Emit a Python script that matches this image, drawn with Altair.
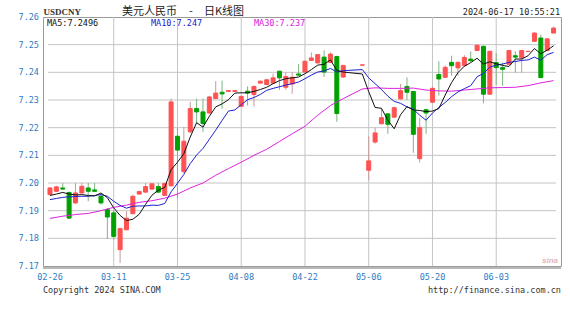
import altair as alt
import pandas as pd

# ---------------- data ----------------
idx = list(range(0, 47)) + list(range(49, 80))
opens = [7.1958, 7.1970, 7.1982, 7.1966, 7.1928, 7.1964, 7.1982, 7.1975, 7.1952, 7.1904,
         7.1892, 7.1759, 7.1831, 7.1889, 7.1960, 7.1967, 7.1978, 7.1987, 7.1955, 7.1990,
         7.2169, 7.2041, 7.2185, 7.2269, 7.2257, 7.2253, 7.2305, 7.2328, 7.2331, 7.2331,
         7.2277, 7.2332, 7.2320, 7.2361, 7.2356, 7.2361, 7.2404, 7.2346, 7.2358, 7.2394,
         7.2401, 7.2443, 7.2434, 7.2455, 7.2436, 7.2457, 7.2383,
         7.2426, 7.2046, 7.2148, 7.2214, 7.2250, 7.2238, 7.2304, 7.2349, 7.2331, 7.2088,
         7.2265, 7.2292, 7.2392, 7.2382, 7.2436, 7.2416, 7.2424, 7.2448, 7.2479, 7.2494,
         7.2321, 7.2435, 7.2417, 7.2429, 7.2460, 7.2452, 7.2475, 7.2512, 7.2524, 7.2479, 7.2542]
highs = [7.1985, 7.1990, 7.2000, 7.1968, 7.2000, 7.2000, 7.2000, 7.2000, 7.1960, 7.1910,
         7.1900, 7.1838, 7.1898, 7.1958, 7.1972, 7.2000, 7.2000, 7.2000, 7.2002, 7.2305,
         7.2200, 7.2203, 7.2293, 7.2305, 7.2305, 7.2315, 7.2368, 7.2370, 7.2335, 7.2335,
         7.2315, 7.2349, 7.2352, 7.2370, 7.2376, 7.2395, 7.2406, 7.2400, 7.2400, 7.2430,
         7.2442, 7.2472, 7.2466, 7.2480, 7.2472, 7.2460, 7.2427,
         7.2428, 7.2169, 7.2200, 7.2268, 7.2252, 7.2276, 7.2358, 7.2382, 7.2333, 7.2236,
         7.2268, 7.2349, 7.2440, 7.2425, 7.2460, 7.2440, 7.2462, 7.2476, 7.2500, 7.2496,
         7.2478, 7.2470, 7.2435, 7.2481, 7.2476, 7.2481, 7.2477, 7.2545, 7.2536, 7.2523, 7.2565]
lows = [7.1955, 7.1968, 7.1976, 7.1870, 7.1925, 7.1962, 7.1934, 7.1968, 7.1922, 7.1798,
        7.1795, 7.1711, 7.1829, 7.1887, 7.1958, 7.1965, 7.1976, 7.1965, 7.1953, 7.1988,
        7.1945, 7.2035, 7.2180, 7.2215, 7.2185, 7.2250, 7.2303, 7.2268, 7.2330, 7.2330,
        7.2275, 7.2280, 7.2277, 7.2360, 7.2354, 7.2360, 7.2337, 7.2337, 7.2323, 7.2388,
        7.2399, 7.2441, 7.2432, 7.2383, 7.2434, 7.2221, 7.2380,
        7.2426, 7.2010, 7.2142, 7.2212, 7.2178, 7.2236, 7.2302, 7.2300, 7.2109, 7.2074,
        7.2178, 7.2290, 7.2316, 7.2380, 7.2388, 7.2388, 7.2422, 7.2438, 7.2477, 7.2288,
        7.2319, 7.2355, 7.2351, 7.2427, 7.2399, 7.2399, 7.2475, 7.2510, 7.2379, 7.2477, 7.2540]
closes = [7.1982, 7.1986, 7.1978, 7.1873, 7.1964, 7.1988, 7.1970, 7.1970, 7.1928, 7.1877,
          7.1807, 7.1835, 7.1873, 7.1952, 7.1969, 7.1987, 7.1997, 7.1967, 7.1998, 7.2293,
          7.2119, 7.2151, 7.2269, 7.2257, 7.2215, 7.2311, 7.2325, 7.2322, 7.2334, 7.2334,
          7.2313, 7.2325, 7.2349, 7.2368, 7.2373, 7.2380, 7.2380, 7.2385, 7.2382, 7.2390,
          7.2440, 7.2452, 7.2464, 7.2401, 7.2466, 7.2251, 7.2425,
          7.2427, 7.2080, 7.2181, 7.2236, 7.2212, 7.2272, 7.2334, 7.2328, 7.2176, 7.2200,
          7.2253, 7.2342, 7.2376, 7.2418, 7.2424, 7.2436, 7.2454, 7.2442, 7.2498, 7.2321,
          7.2476, 7.2417, 7.2411, 7.2479, 7.2455, 7.2479, 7.2476, 7.2542, 7.2381, 7.2521, 7.2560]

ma5 = [7.1955, 7.1960, 7.1966, 7.1960, 7.1957, 7.1958, 7.1955, 7.1953, 7.1964, 7.1947,
       7.1910, 7.1883, 7.1864, 7.1869, 7.1887, 7.1923, 7.1956, 7.1974, 7.1984, 7.2048,
       7.2075, 7.2106, 7.2166, 7.2218, 7.2202, 7.2241, 7.2275, 7.2286, 7.2301, 7.2325,
       7.2326, 7.2326, 7.2331, 7.2338, 7.2346, 7.2359, 7.2370, 7.2377, 7.2380, 7.2383,
       7.2395, 7.2410, 7.2426, 7.2429, 7.2445, 7.2407, 7.2401,
       7.2394, 7.2330, 7.2273, 7.2270, 7.2227, 7.2196, 7.2247, 7.2276, 7.2264, 7.2262,
       7.2258, 7.2260, 7.2269, 7.2318, 7.2363, 7.2399, 7.2422, 7.2435, 7.2451, 7.2430,
       7.2438, 7.2431, 7.2425, 7.2421, 7.2448, 7.2448, 7.2460, 7.2486, 7.2467, 7.2480, 7.2496]
ma10 = [7.1940, 7.1944, 7.1948, 7.1950, 7.1951, 7.1952, 7.1952, 7.1955, 7.1958, 7.1952,
        7.1934, 7.1919, 7.1909, 7.1916, 7.1917, 7.1917, 7.1920, 7.1919, 7.1926, 7.1968,
        7.1999, 7.2031, 7.2070, 7.2101, 7.2125, 7.2158, 7.2191, 7.2226, 7.2260, 7.2264,
        7.2283, 7.2301, 7.2309, 7.2320, 7.2335, 7.2342, 7.2348, 7.2354, 7.2359, 7.2365,
        7.2377, 7.2390, 7.2401, 7.2405, 7.2414, 7.2401, 7.2406,
        7.2410, 7.2380, 7.2359, 7.2338, 7.2314, 7.2295, 7.2288, 7.2275, 7.2267, 7.2245,
        7.2227, 7.2253, 7.2273, 7.2291, 7.2312, 7.2329, 7.2341, 7.2352, 7.2384, 7.2396,
        7.2419, 7.2426, 7.2430, 7.2436, 7.2439, 7.2443, 7.2445, 7.2455, 7.2444, 7.2464, 7.2472]
ma30_idx = [0, 2, 4, 6, 8, 10, 12, 14, 16, 18, 20, 22, 24, 26, 28, 30, 32, 34, 36, 38,
            40, 42, 44, 46, 49, 51, 53, 55, 57, 59, 61, 63, 65, 67, 69, 71, 73, 75, 77, 79]
ma30 = [7.1872, 7.1880, 7.1886, 7.1890, 7.1900, 7.1912, 7.1920, 7.1930, 7.1936, 7.1945,
        7.1960, 7.1982, 7.2000, 7.2028, 7.2052, 7.2075, 7.2100, 7.2122, 7.2150, 7.2178,
        7.2205, 7.2245, 7.2280, 7.2305, 7.2340, 7.2344, 7.2342, 7.2342, 7.2343, 7.2336,
        7.2333, 7.2332, 7.2336, 7.2340, 7.2344, 7.2345, 7.2346, 7.2352, 7.2362, 7.2370]

x_label_pos = [0, 10, 20, 30, 40, 50, 60, 70]
x_labels = ["02-26", "03-11", "03-25", "04-08", "04-22", "05-06", "05-20", "06-03"]
y_ticks = [7.17, 7.18, 7.19, 7.20, 7.21, 7.22, 7.23, 7.24, 7.25, 7.26]
y_grid = [7.18, 7.19, 7.20, 7.21, 7.22, 7.23, 7.24, 7.25]
x_grid = [10, 20, 30, 40, 50, 60, 70]

symbol = "USDCNY"
title_left = "美元人民币"
title_dash = "-"
title_right = "日K线图"
stamp = "2024-06-17 10:55:21"
footer_left = "Copyright 2024 SINA.COM"
footer_right = "http://finance.sina.com.cn"

# ---------------- styling ----------------
W, H = 518, 249
RED, GREEN = "#ff5252", "#00a000"
RED_W, GREEN_W = "#c89a9a", "#80b480"
BLUE_T = "#2e7bc4"
MONO = "DejaVu Sans Mono"
GRID = "#c4c4c4"
X_DOM = [-0.31, 79.38]
Y_DOM = [7.17, 7.26]

xs = alt.Scale(domain=X_DOM, nice=False, zero=False)
ys = alt.Scale(domain=Y_DOM, nice=False, zero=False)

candles = pd.DataFrame({"k": idx, "open": opens, "high": highs, "low": lows, "close": closes})
up = alt.datum.close >= alt.datum.open

# grid lines drawn like the wicks: rules with field-based end points
hgrid_df = pd.DataFrame({"hy": y_grid, "x0": [X_DOM[0]] * len(y_grid), "x1": [X_DOM[1]] * len(y_grid)})
hgrid = alt.Chart(hgrid_df).mark_rule(color=GRID, strokeWidth=1).encode(
    y=alt.Y("hy:Q", scale=ys, axis=None),
    x=alt.X("x0:Q", scale=xs, axis=None),
    x2="x1:Q",
)

vgrid_df = pd.DataFrame({"vx": x_grid, "y0": [Y_DOM[0]] * len(x_grid), "y1": [Y_DOM[1]] * len(x_grid)})
vgrid = alt.Chart(vgrid_df).mark_rule(color=GRID, strokeWidth=1).encode(
    x=alt.X("vx:Q", scale=xs, axis=None),
    y=alt.Y("y0:Q", scale=ys, axis=None),
    y2="y1:Q",
)

bottom_strip = alt.Chart(pd.DataFrame({"a": [0]})).mark_rule(
    color="#b8b8b8", strokeWidth=2
).encode(x=alt.value(0), x2=alt.value(W), y=alt.value(H + 2))

# axis labels drawn as text through the scales
ylab = alt.Chart(pd.DataFrame({"yt": y_ticks})).mark_text(
    align="right", baseline="middle", font=MONO, fontSize=8.5, color=BLUE_T
).encode(
    y=alt.Y("yt:Q", scale=ys, axis=None),
    x=alt.value(-4),
    text=alt.Text("yt:Q", format=".2f"),
)

xlab = alt.Chart(pd.DataFrame({"xt": x_label_pos, "lab": x_labels})).mark_text(
    align="center", baseline="middle", font=MONO, fontSize=8.5, color=BLUE_T
).encode(
    x=alt.X("xt:Q", scale=xs, axis=None),
    y=alt.value(H + 11),
    text="lab:N",
)

wicks = alt.Chart(candles).mark_rule(strokeWidth=1).encode(
    x=alt.X("k:Q", scale=xs, axis=None),
    y=alt.Y("low:Q", scale=ys, axis=None),
    y2="high:Q",
    color=alt.when(up).then(alt.value(RED_W)).otherwise(alt.value(GREEN_W)),
)

bodies = alt.Chart(candles).mark_bar(size=4, strokeWidth=1).encode(
    x=alt.X("k:Q", scale=xs, axis=None),
    y=alt.Y("open:Q", scale=ys, axis=None),
    y2="close:Q",
    color=alt.when(up).then(alt.value(RED)).otherwise(alt.value(GREEN)),
    stroke=alt.when(up).then(alt.value(RED)).otherwise(alt.value(GREEN)),
)

def ma_line(ks, vals, color):
    return alt.Chart(pd.DataFrame({"k": ks, "v": vals})).mark_line(
        color=color, strokeWidth=1
    ).encode(x=alt.X("k:Q", scale=xs, axis=None), y=alt.Y("v:Q", scale=ys, axis=None))

l30 = ma_line(ma30_idx, ma30, "#dd22dd")
l10 = ma_line(idx, ma10, "#2020d0")
l5 = ma_line(idx, ma5, "#111111")

def txt(s, x, y, color="#222222", size=8.5, font=MONO, align="left", weight="normal", style="normal"):
    return alt.Chart(pd.DataFrame({"t": [s]})).mark_text(
        align=align, baseline="alphabetic", font=font, fontSize=size, color=color,
        fontWeight=weight, fontStyle=style
    ).encode(x=alt.value(x), y=alt.value(y), text="t:N")

texts = [
    txt(symbol, 0.5, -2, size=9, font="Liberation Serif", weight="bold", color="#333333"),
    txt(title_left, 79, -2, size=11, font="Noto Sans CJK SC", color="#222222"),
    txt(title_dash, 146, -2, size=11, font="Noto Sans CJK SC", color="#222222"),
    txt(title_right, 161, -2, size=11, font="Noto Sans CJK SC", color="#222222"),
    txt(stamp, 517, -2, align="right"),
    txt("MA5:%.4f" % ma5[-1], 4, 9, color="#111111"),
    txt("MA10:%.3f" % ma10[-1], 108, 9, color="#2020d0"),
    txt("MA30:%.3f" % ma30[-1], 211, 9, color="#dd22dd"),
    txt(footer_left, 0, 276, color="#333333"),
    txt(footer_right, 518, 276, align="right", color="#333333"),
    txt("sina", 515, 246, size=8, font="Liberation Sans", align="right", color="#e2b8b8",
        weight="bold", style="italic"),
]

chart = alt.layer(
    hgrid, vgrid, bottom_strip, ylab, xlab, wicks, bodies, l30, l10, l5, *texts
).properties(
    width=W, height=H, autosize="none",
    padding={"left": 43, "top": 17, "right": 9, "bottom": 54},
    background="white",
).configure_view(stroke="#9a9a9a", strokeWidth=1)

chart.save("out.html", embed_options={"renderer": "svg", "actions": False})
